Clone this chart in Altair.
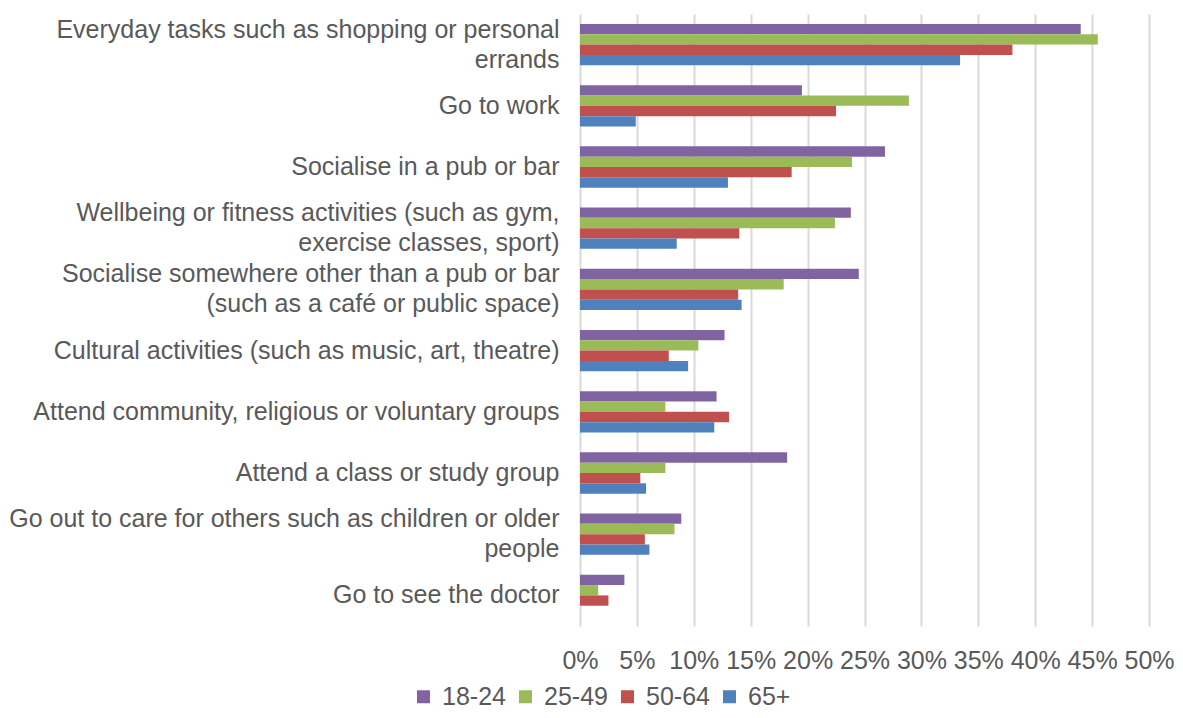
import altair as alt
import pandas as pd

categories = [
    "Everyday tasks such as shopping or personal|errands",
    "Go to work",
    "Socialise in a pub or bar",
    "Wellbeing or fitness activities (such as gym,|exercise classes, sport)",
    "Socialise somewhere other than a pub or bar|(such as a café or public space)",
    "Cultural activities (such as music, art, theatre)",
    "Attend community, religious or voluntary groups",
    "Attend a class or study group",
    "Go out to care for others such as children or older|people",
    "Go to see the doctor",
]
series = ["18-24", "25-49", "50-64", "65+"]
v_18_24 = [44.0, 19.5, 26.8, 23.8, 24.5, 12.7, 12.0, 18.2, 8.9, 3.9]
v_25_49 = [45.5, 28.9, 23.9, 22.4, 17.9, 10.4, 7.5, 7.5, 8.3, 1.6]
v_50_64 = [38.0, 22.5, 18.6, 14.0, 13.9, 7.8, 13.1, 5.3, 5.7, 2.5]
v_65_plus = [33.4, 4.9, 13.0, 8.5, 14.2, 9.5, 11.8, 5.8, 6.1, 0.0]
tick_values = [0, 5, 10, 15, 20, 25, 30, 35, 40, 45, 50]
colors = ["#8064A2", "#9BBB59", "#C0504D", "#4F81BD"]

rows = []
for s, vals in zip(series, [v_18_24, v_25_49, v_50_64, v_65_plus]):
    for c, v in zip(categories, vals):
        rows.append({"category": c, "series": s, "value": v / 100})
df = pd.DataFrame(rows)

FONT = "Liberation Sans"
TXT = "#595959"

chart = alt.Chart(df).mark_bar().encode(
    y=alt.Y(
        "category:N",
        sort=categories,
        scale=alt.Scale(paddingInner=0.325, paddingOuter=0.1625),
        axis=alt.Axis(
            title=None,
            labelExpr="split(datum.label, '|')",
            labelFont=FONT,
            labelFontSize=25,
            labelColor=TXT,
            labelPadding=21,
            labelLineHeight=30,
            labelOffset={
                "condition": {"test": "indexof(datum.value, '|') >= 0", "value": -15},
                "value": 0,
            },
            labelLimit=0,
            ticks=False,
            domain=False,
            minExtent=572,
            maxExtent=572,
        ),
    ),
    yOffset=alt.YOffset("series:N", sort=series, scale=alt.Scale(paddingInner=0, paddingOuter=0)),
    x=alt.X(
        "value:Q",
        scale=alt.Scale(domain=[0, 0.5], nice=False),
        axis=alt.Axis(
            title=None,
            values=[t / 100 for t in tick_values],
            format=".0%",
            grid=True,
            gridColor="#D9D9D9",
            gridWidth=2,
            domain=False,
            ticks=False,
            labelFont=FONT,
            labelFontSize=25,
            labelColor=TXT,
            labelPadding=22,
            labelFlush=False,
            labelOverlap=False,
        ),
    ),
    color=alt.Color(
        "series:N",
        sort=series,
        scale=alt.Scale(domain=series, range=colors),
        legend=alt.Legend(
            title=None,
            orient="none",
            direction="horizontal",
            legendX=-169,
            legendY=670,
            symbolType="square",
            symbolSize=169,
            symbolStrokeWidth=0,
            labelFont=FONT,
            labelFontSize=25,
            labelColor=TXT,
            labelOffset=6,
            columnPadding=7,
            padding=0,
        ),
    ),
).properties(
    width=569,
    height=612,
    padding={"left": 0, "top": 6, "right": 0, "bottom": 0},
).configure_view(stroke=None)

chart.save("out.html", embed_options={"renderer": "svg", "actions": False})
